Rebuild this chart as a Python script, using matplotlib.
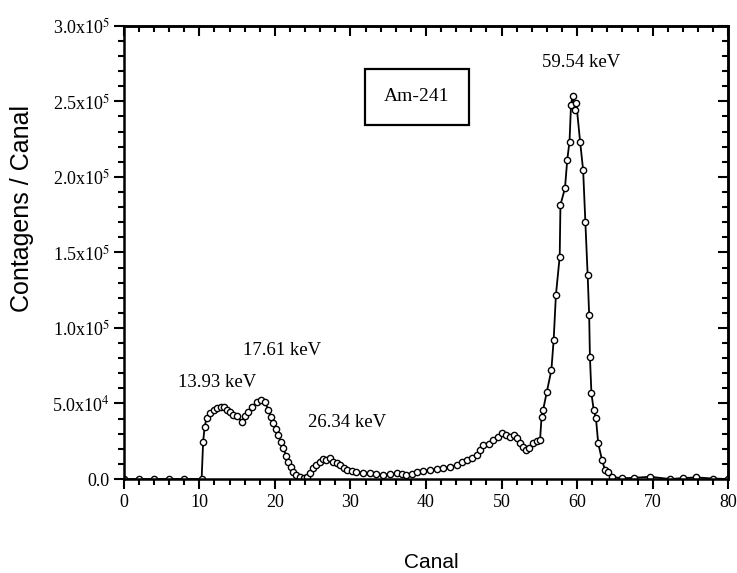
import matplotlib
matplotlib.use("Agg")
import matplotlib.pyplot as plt
from matplotlib.ticker import MultipleLocator, AutoMinorLocator, FixedLocator, FixedFormatter

plt.rcParams['mathtext.fontset'] = 'stix'

# espectro Am-241 (leitura do grafico)
canal = [0, 2, 4, 6, 8, 10.3, 10.5, 10.7, 10.95, 11.4, 11.9, 12.3, 12.8, 13.2, 13.7,
         14.1, 14.5, 15.0, 15.6, 16.0, 16.5, 17.0, 17.6, 18.1, 18.7, 19.1, 19.5, 19.8,
         20.1, 20.4, 20.8, 21.1, 21.5, 21.8, 22.1, 22.4, 22.8, 23.3, 23.8, 24.2, 24.6,
         25.1, 25.5, 26.0, 26.4, 26.8, 27.3, 27.7, 28.2, 28.6, 29.1, 29.5, 30.2, 30.8,
         31.6, 32.6, 33.4, 34.3, 35.2, 36.1, 36.8, 37.4, 38.1, 38.8, 39.6, 40.5, 41.4,
         42.3, 43.2, 44.1, 44.8, 45.4, 46.1, 46.7, 47.2, 47.6, 48.3, 48.9, 49.5, 50.0,
         50.6, 51.1, 51.6, 52.0, 52.5, 52.9, 53.3, 53.6, 54.2, 54.7, 55.1, 55.3, 55.5,
         56.0, 56.6, 56.9, 57.2, 57.7, 57.8, 58.4, 58.7, 59.0, 59.2, 59.4, 59.7, 59.9,
         60.4, 60.8, 61.1, 61.4, 61.6, 61.7, 61.9, 62.2, 62.5, 62.8, 63.3, 63.7, 64.1,
         64.6, 65.9, 67.5, 69.7, 72.3, 74.0, 75.8, 78.0, 80.0]
contagens = [0, 0, 0, 0, 0, 0, 24700, 34600, 40200, 43500, 45500, 46800, 47500, 47900, 46000,
             44500, 42400, 42000, 37900, 41500, 44600, 47500, 51200, 52000, 51200, 45700, 41000, 36900,
             33000, 29100, 24500, 20300, 15500, 11500, 8000, 4800, 2500, 1100, 800, 1100, 4000,
             7100, 9500, 11500, 13000, 12600, 13700, 11500, 10400, 9300, 7500, 6000, 5500, 4800,
             4200, 3800, 3200, 2600, 3000, 3800, 3000, 2600, 3600, 4800, 5200, 6000, 6500,
             7100, 8200, 9300, 11000, 12600, 14000, 15900, 19000, 22500, 23500, 25800, 27500, 30200,
             29000, 28000, 29000, 27000, 24000, 21400, 19000, 20300, 23600, 25000, 25800, 41300, 45700,
             57800, 72200, 92100, 121900, 147200, 181500, 192500, 211300, 223400, 247700, 253600, 244400, 248800,
             223400, 204600, 170400, 135100, 108600, 81000, 56700, 45700, 40200, 23600, 12600, 6000, 4800,
             1500, 500, 800, 1500, 0, 600, 1100, 300, 0]

picos = ['13.93 keV', '17.61 keV', '26.34 keV', '59.54 keV']
picos_x = [12.3, 20.9, 29.5, 60.6]
picos_y = [64200, 84800, 37100, 276000]

yticks = [0, 50000, 100000, 150000, 200000, 250000, 300000]
ytick_labels = ['0.0', r'5.0x10$^4$', r'1.0x10$^5$', r'1.5x10$^5$',
                r'2.0x10$^5$', r'2.5x10$^5$', r'3.0x10$^5$']

fig = plt.figure(figsize=(7.37, 5.73), dpi=100)
ax = fig.add_axes([0.168, 0.164, 0.820, 0.791])

ax.plot(canal, contagens, '-', color='black', lw=1.3,
        marker='o', markersize=4.5, markerfacecolor='white',
        markeredgecolor='black', markeredgewidth=1.0)

ax.set_xlim(0, 80)
ax.set_ylim(0, 300000)

ax.xaxis.set_major_locator(MultipleLocator(10))
ax.xaxis.set_minor_locator(AutoMinorLocator(5))
ax.yaxis.set_major_locator(FixedLocator(yticks))
ax.yaxis.set_major_formatter(FixedFormatter(ytick_labels))
ax.yaxis.set_minor_locator(AutoMinorLocator(5))

for sp in ax.spines.values():
    sp.set_linewidth(1.8)

ax.tick_params(axis='both', which='both', width=1.5)
ax.tick_params(axis='x', which='major', direction='out', length=7, labelsize=13, pad=4)
ax.tick_params(axis='x', which='minor', direction='out', length=4)
ax.tick_params(axis='y', which='major', direction='out', length=7, labelsize=13, pad=3)
ax.tick_params(axis='y', which='minor', direction='out', length=4)
for lab in ax.get_xticklabels() + ax.get_yticklabels():
    lab.set_family('Liberation Serif')

# top / right ticks point inwards
top = ax.secondary_xaxis('top')
top.xaxis.set_major_locator(MultipleLocator(10))
top.xaxis.set_minor_locator(AutoMinorLocator(5))
top.tick_params(which='both', direction='in', width=1.5, labeltop=False)
top.tick_params(which='major', length=7)
top.tick_params(which='minor', length=4)
top.spines['top'].set_linewidth(1.8)

right = ax.secondary_yaxis('right')
right.yaxis.set_major_locator(FixedLocator(yticks))
right.yaxis.set_minor_locator(AutoMinorLocator(5))
right.tick_params(which='both', direction='in', width=1.5, labelright=False)
right.tick_params(which='major', length=7)
right.tick_params(which='minor', length=4)
right.spines['right'].set_linewidth(1.8)

for t, x, y in zip(picos, picos_x, picos_y):
    ax.text(x, y, t, ha='center', va='center', fontsize=13.5, family='Liberation Serif')

ax.text(38.8, 253000, 'Am-241', ha='center', va='center', fontsize=14,
        family='Liberation Serif',
        bbox=dict(boxstyle='square,pad=1.0', fc='white', ec='black', lw=1.6))

ax.set_xlabel('Canal', fontsize=15, family='Liberation Sans')
ax.set_ylabel('Contagens / Canal', fontsize=18, family='Liberation Sans')
ax.xaxis.set_label_coords(0.508, -0.163)
ax.yaxis.set_label_coords(-0.148, 0.596)

fig.savefig('out.png', dpi=100)
